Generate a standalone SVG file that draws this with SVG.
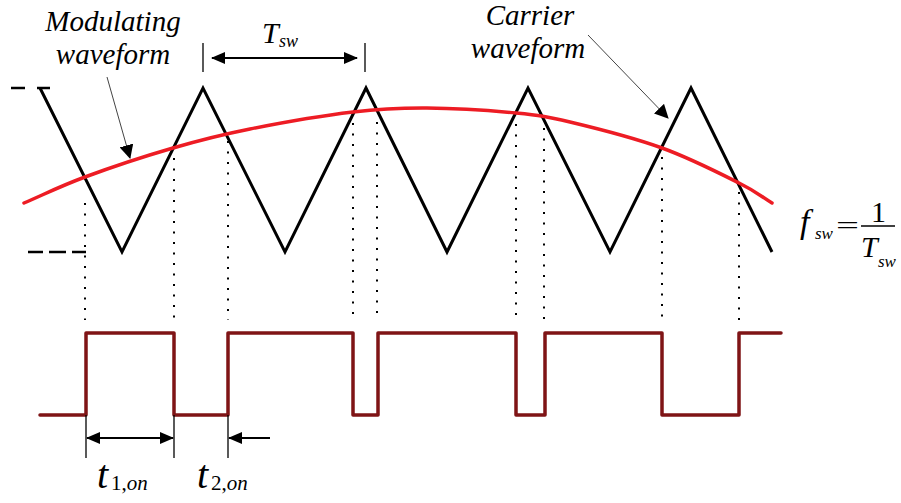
<svg xmlns="http://www.w3.org/2000/svg" width="901" height="503" viewBox="0 0 901 503">
<style>
.lbl{font-family:"Liberation Serif","Times New Roman",serif;font-style:italic;fill:#000}
.up{font-style:normal}
.tri{fill:none;stroke:#000;stroke-width:3;stroke-linejoin:miter}
.mod{fill:none;stroke:#ed1c24;stroke-width:3.5;stroke-linecap:round}
.pwm{fill:none;stroke:#7f1416;stroke-width:3.5;stroke-linejoin:round;stroke-linecap:round}
.dot{stroke:#000;stroke-width:2;stroke-dasharray:2 8.5;fill:none}
.dash{stroke:#000;stroke-width:2.5}
.tick{stroke:#000;stroke-width:1.3}
.dim{stroke:#000;stroke-width:2}
.ptr{stroke:#444;stroke-width:1}
</style>
<defs>
<marker id="ah" markerUnits="userSpaceOnUse" markerWidth="14" markerHeight="12" refX="13" refY="6" orient="auto-start-reverse" viewBox="0 0 14 12">
<path d="M0,0 L14,6 L0,12 z" fill="#000"/>
</marker>
<marker id="ah2" markerUnits="userSpaceOnUse" markerWidth="14" markerHeight="14" refX="13" refY="7" orient="auto" viewBox="0 0 14 14">
<path d="M0,0 L14,7 L0,14 z" fill="#000"/>
</marker>
</defs>
<rect width="901" height="503" fill="#fff"/>

<g id="carrier">
<polyline class="tri" points="40,88 122,252 203,88 285,252 366,88 447,252 528,88 610,252 691,88 772,252"/>
<line class="dash" x1="11" y1="88" x2="25" y2="88"/>
<line class="dash" x1="37" y1="88" x2="50" y2="88"/>
<line class="dash" x1="28" y1="252" x2="43" y2="252"/>
<line class="dash" x1="49" y1="252" x2="66" y2="252"/>
<line class="dash" x1="72" y1="252" x2="86" y2="252"/>
</g>

<g id="modulating">
<path class="mod" d="M24,203 C44.3,194.3 60.2,186.2 85,177 C109.8,167.8 145.5,156 173,148 C200.5,140 220,135 250,129 C280,123 323.5,115.5 353,112 C382.5,108.5 399.8,107.8 427,108 C454.2,108.2 492.2,110.7 516,113 C539.8,115.3 545.7,116.2 570,122 C594.3,127.8 633.8,137.8 662,148 C690.2,158.2 720.7,173.8 739,183 C757.3,192.2 761,196.3 772,203"/>
</g>

<g id="projections">
<line class="dot" x1="85" y1="203" x2="85" y2="320"/>
<line class="dot" x1="174" y1="158" x2="174" y2="320"/>
<line class="dot" x1="228" y1="141" x2="228" y2="320"/>
<line class="dot" x1="353" y1="123" x2="353" y2="320"/>
<line class="dot" x1="377" y1="122" x2="377" y2="320"/>
<line class="dot" x1="516" y1="124" x2="516" y2="320"/>
<line class="dot" x1="544" y1="128" x2="544" y2="320"/>
<line class="dot" x1="662" y1="157" x2="662" y2="320"/>
<line class="dot" x1="739" y1="192" x2="739" y2="320"/>
</g>

<g id="pwm">
<path class="pwm" d="M40,415 H86 V333 H174 V415 H228 V333 H353 V415 H378 V333 H516 V415 H545 V333 H662 V415 H739 V333 H781"/>
</g>

<g id="connectors">
<line class="ptr" x1="107" y1="77" x2="130" y2="158" marker-end="url(#ah2)"/>
<line class="ptr" x1="588" y1="35" x2="668" y2="118" marker-end="url(#ah2)"/>
<line class="tick" x1="203" y1="43" x2="203" y2="72"/>
<line class="tick" x1="365" y1="43" x2="365" y2="72"/>
<line class="dim" x1="212" y1="58" x2="357" y2="58" marker-start="url(#ah)" marker-end="url(#ah)"/>
<line class="tick" x1="86" y1="415" x2="86" y2="458"/>
<line class="tick" x1="174" y1="415" x2="174" y2="458"/>
<line class="tick" x1="228" y1="415" x2="228" y2="458"/>
<line class="dim" x1="87" y1="438" x2="173" y2="438" marker-start="url(#ah)" marker-end="url(#ah)"/>
<line class="dim" x1="270" y1="438" x2="229" y2="438" marker-end="url(#ah)"/>
</g>

<g id="label-modulating">
<text class="lbl" x="113" y="31" font-size="29" text-anchor="middle">Modulating</text>
<text class="lbl" x="113" y="64" font-size="29" text-anchor="middle">waveform</text>
</g>
<g id="label-carrier">
<text class="lbl" x="530" y="25" font-size="29" text-anchor="middle">Carrier</text>
<text class="lbl" x="528" y="58" font-size="29" text-anchor="middle">waveform</text>
</g>
<g id="label-tsw">
<text class="lbl" x="262" y="43" font-size="30">T</text>
<text class="lbl" x="279" y="47" font-size="18">sw</text>
</g>
<g id="label-fsw">
<text class="lbl" x="800" y="233" font-size="34">f</text>
<text class="lbl" x="815" y="239" font-size="17">sw</text>
<text class="lbl up" x="836" y="233" font-size="24" textLength="23" lengthAdjust="spacingAndGlyphs">=</text>
<line x1="861" y1="226" x2="895" y2="226" stroke="#000" stroke-width="1.5"/>
<text class="lbl up" x="871" y="222" font-size="30">1</text>
<text class="lbl" x="861" y="257" font-size="30">T</text>
<text class="lbl" x="878" y="267" font-size="17">sw</text>
</g>
<g id="label-t1">
<text class="lbl" x="97" y="488" font-size="40">t</text>
<text class="lbl" x="111" y="490" font-size="21"><tspan class="up">1,</tspan>on</text>
</g>
<g id="label-t2">
<text class="lbl" x="197" y="488" font-size="40">t</text>
<text class="lbl" x="211" y="490" font-size="21"><tspan class="up">2,</tspan>on</text>
</g>
</svg>
